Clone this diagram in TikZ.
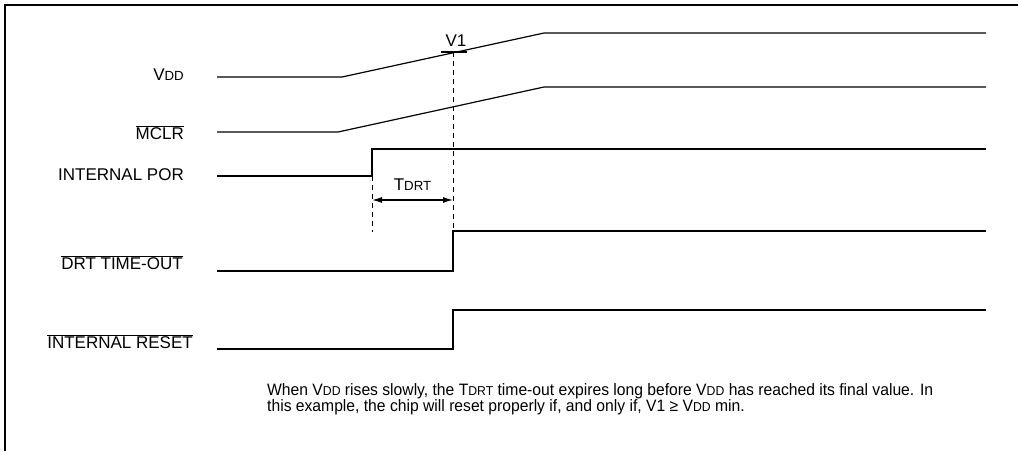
\documentclass[tikz,border=0pt]{standalone}
\usepackage{fontspec}
\setmainfont{Liberation Sans}
\newfontfamily\notefont[FakeStretch=0.95]{Liberation Sans}
\usetikzlibrary{arrows.meta}
\newcommand{\smc}[1]{\scalebox{0.78}{#1}}
\newcommand{\ovl}[1]{$\overline{\mbox{#1}}$}

\begin{document}
\begin{tikzpicture}[
    x=1pt, y=-1pt,
    sig/.style={line width=1.2pt},
    guide/.style={line width=0.9pt, dash pattern=on 4.5pt off 4.5pt},
    lbl/.style={anchor=base east, inner sep=0pt, font=\fontsize{17}{20}\selectfont},
    tip/.style={{Latex[length=10pt,width=6pt]}-{Latex[length=10pt,width=6pt]}}
]
    \useasboundingbox (0,0) rectangle (1018,451);
    % frame
    \draw[line width=1.2pt] (5,451) -- (5,5) -- (1018,5);
    % signal names
    \node[lbl] (vdd) at (184,80.7) {V\smc{DD}};
    \node[lbl] (mclr) at (184,139.3) {\ovl{MCLR}};
    \node[lbl] (por) at (184,180.7) {INTERNAL POR};
    \node[lbl] (drt) at (183,269.3) {\ovl{DRT TIME-OUT}};
    \node[lbl] (rst) at (193,348.3) {\ovl{INTERNAL RESET}};
    % draw slow ramps
    \draw[sig] (217,77) -- (342,77) -- (544,33) -- (986,33);
    \draw[sig] (217,132) -- (338,132) -- (544,87) -- (986,87);
    % draw steps
    \foreach \lo/\hi/\t in {176/149/372, 271/231/453, 349/310/453}
        \draw[sig] (217,\lo) -- (\t,\lo) -- (\t,\hi) -- (986,\hi);
    % V1 marker
    \draw[sig] (441,52) -- (467,52);
    \node[lbl, anchor=base] (vone) at (456,46.7) {V1};
    \draw[guide] (453,52) -- (453,231);
    \draw[guide] (372,149) -- (372,232);
    % TDRT span
    \coordinate (ta) at (372,200);
    \coordinate (tb) at (453,200);
    \draw[sig, tip] (ta) -- (tb);
    \node[lbl, anchor=base] (tdrt) at (412.5,190) {T\smc{DRT}};
    % note
    \node[anchor=base west, align=left, inner sep=0pt,
          font=\notefont\fontsize{16.5}{13.5}\selectfont] (note) at (267,411.5)
        {When V\smc{DD} rises slowly, the T\smc{DRT} time-out expires long before V\smc{DD} has reached its final value. In\\
         this example, the chip will reset properly if, and only if, V1 \char"2265{} V\smc{DD} min.};
\end{tikzpicture}
\end{document}
